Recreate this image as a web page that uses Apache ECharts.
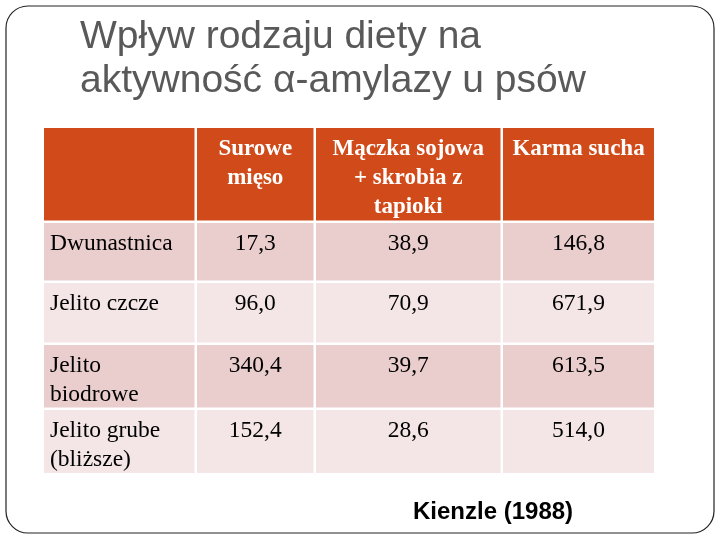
<!DOCTYPE html>
<html>
<head>
<meta charset="utf-8">
<title>Wpływ rodzaju diety na aktywność α-amylazy u psów</title>
<script src="https://cdn.jsdelivr.net/npm/echarts@6/dist/echarts.min.js"></script>
<style>
  html, body { margin: 0; padding: 0; background: #fff; }
  #chart { width: 720px; height: 540px; }
</style>
</head>
<body>
<div id="chart"></div>
<script>
// dane tabeli
const columns = ['', 'Surowe\nmięso', 'Mączka sojowa\n+ skrobia z\ntapioki', 'Karma sucha'];
const sections = ['Dwunastnica', 'Jelito czcze', 'Jelito\nbiodrowe', 'Jelito grube\n(bliższe)'];
const surowe = [17.3, 96.0, 340.4, 152.4];
const maczka = [38.9, 70.9, 39.7, 28.6];
const karma = [146.8, 671.9, 613.5, 514.0];
const source = 'Kienzle (1988)';

// układ (px w jednostkach osi)
const colWidths = [153, 119, 187, 151];
const rowHeights = [95, 60, 62, 65, 63];
const gap = 2.5;

const colEdges = [0];
colWidths.forEach(w => colEdges.push(colEdges[colEdges.length - 1] + w));
const rowEdges = [0];
rowHeights.forEach(h => rowEdges.push(rowEdges[rowEdges.length - 1] + h));

const fmt = v => v.toFixed(1).replace('.', ',');

// komórki: [kolumna, wiersz, tekst]
const cells = [];
columns.forEach((c, i) => cells.push([i, 0, c]));
sections.forEach((s, r) => {
  cells.push([0, r + 1, s]);
  cells.push([1, r + 1, fmt(surowe[r])]);
  cells.push([2, r + 1, fmt(maczka[r])]);
  cells.push([3, r + 1, fmt(karma[r])]);
});

const chart = echarts.init(document.getElementById('chart'));

const renderCell = (params, api) => {
  const col = api.value(0);
  const row = api.value(1);
  const text = cells[params.dataIndex][2];
  const lastCol = col === colWidths.length - 1;
  const lastRow = row === rowHeights.length - 1;
  const p0 = api.coord([colEdges[col], rowEdges[row]]);
  const p1 = api.coord([colEdges[col + 1] - (lastCol ? 0 : gap), rowEdges[row + 1] - (lastRow ? 0 : gap)]);
  const header = row === 0;
  let fill;
  if (header) fill = '#D14B1A';
  else fill = row % 2 === 1 ? '#EACECD' : '#F4E6E6';
  const left = col === 0 && !header;
  return {
    type: 'group',
    children: [
      {
        type: 'rect',
        shape: { x: p0[0], y: p0[1], width: p1[0] - p0[0], height: p1[1] - p0[1] },
        style: { fill: fill }
      },
      {
        type: 'text',
        x: left ? p0[0] + 6 : (p0[0] + p1[0]) / 2,
        y: p0[1] + (header ? 7 : 6),
        style: {
          text: text,
          fill: header ? '#ffffff' : '#000000',
          fontFamily: 'Liberation Serif',
          fontSize: header ? 23 : 23.5,
          fontWeight: header ? 'bold' : 'normal',
          lineHeight: 29,
          align: left ? 'left' : 'center',
          verticalAlign: 'top'
        }
      }
    ]
  };
};

const option = {
  animation: false,
  backgroundColor: '#ffffff',
  title: [
    {
      text: 'Wpływ rodzaju diety na\naktywność α-amylazy u psów',
      left: 75,
      top: 10,
      textStyle: {
        fontFamily: 'Liberation Sans',
        fontSize: 39,
        fontWeight: 'normal',
        lineHeight: 44,
        color: '#595959'
      }
    },
    {
      text: source,
      left: 408,
      top: 495,
      textStyle: {
        fontFamily: 'Liberation Sans',
        fontSize: 24,
        fontWeight: 'bold',
        color: '#000000'
      }
    }
  ],
  graphic: [
    {
      type: 'rect',
      shape: { x: 6, y: 6, width: 708, height: 527, r: 22 },
      style: { fill: 'none', stroke: '#222', lineWidth: 1.2 },
      z: 10
    }
  ],
  grid: { left: 44, top: 128, width: 610, height: 345 },
  xAxis: { type: 'value', min: 0, max: colEdges[colEdges.length - 1], show: false },
  yAxis: { type: 'value', min: 0, max: rowEdges[rowEdges.length - 1], inverse: true, show: false },
  series: [
    {
      type: 'custom',
      renderItem: renderCell,
      data: cells.map(c => [c[0], c[1]]),
      silent: true
    }
  ]
};

chart.setOption(option);
</script>
</body>
</html>
